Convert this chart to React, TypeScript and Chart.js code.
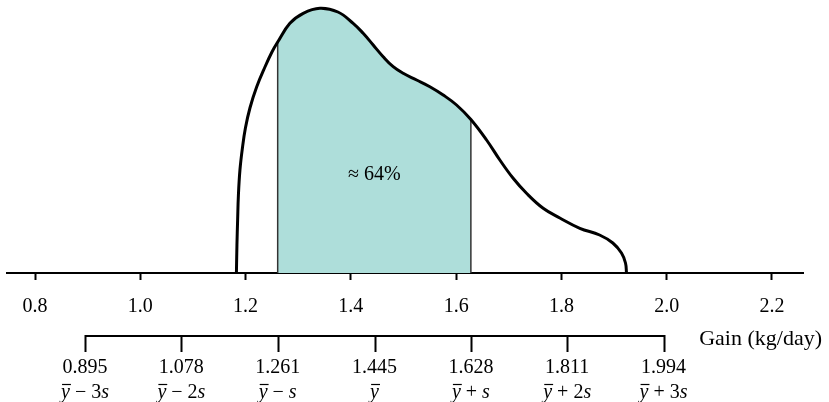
import React, { useEffect, useRef } from "react";
import { Chart, registerables } from "chart.js";

Chart.register(...registerables);

// Density curve of daily gain (heights in arbitrary density units)
const gain = [
  1.1826, 1.1836, 1.1849, 1.1864, 1.1893, 1.194, 1.1997, 1.2083, 1.221, 1.2368, 1.2501,
  1.261, 1.2842, 1.3095, 1.3412, 1.3754, 1.4044, 1.4234, 1.4424, 1.4614, 1.4804, 1.4994,
  1.5249, 1.5501, 1.5754, 1.6008, 1.628, 1.6578, 1.683, 1.7083, 1.7337, 1.7653, 1.797,
  1.835, 1.8725, 1.8976, 1.9141, 1.9217, 1.9236,
];
const density = [
  0, 0.28, 0.53, 0.78, 1.03, 1.25, 1.45, 1.65, 1.86, 2.06, 2.21,
  2.31, 2.497, 2.597, 2.647, 2.61, 2.497, 2.397, 2.28, 2.163, 2.063, 1.997,
  1.93, 1.863, 1.78, 1.68, 1.535, 1.33, 1.13, 0.947, 0.797, 0.647, 0.55,
  0.447, 0.38, 0.3, 0.2, 0.1, 0,
];

const axisTicks = [0.8, 1.0, 1.2, 1.4, 1.6, 1.8, 2.0, 2.2];
const bracketValues = [0.895, 1.078, 1.261, 1.445, 1.628, 1.811, 1.994];
const bracketSymbols = ["ȳ − 3s", "ȳ − 2s", "ȳ − s", "ȳ", "ȳ + s", "ȳ + 2s", "ȳ + 3s"];
const shadeLow = 1.261;
const shadeHigh = 1.628;
const shadeLabel = "≈ 64%";
const axisTitle = "Gain (kg/day)";
const xMin = 0.7468;
const xMax = 2.2589;
const yMax = 2.73;

const FONT = "'Liberation Serif', 'Times New Roman', serif";
const SHADE = "rgb(174,222,218)";

const curvePoints = gain.map((g, i) => ({ x: g, y: density[i] }));
const shadePoints = curvePoints.filter((p) => p.x >= shadeLow && p.x <= shadeHigh);
const heightAt = (v: number) => density[gain.indexOf(v)];

function drawSymbol(ctx: CanvasRenderingContext2D, text: string, cx: number, baseY: number) {
  const upright = `20px ${FONT}`;
  const italic = `italic 20px ${FONT}`;
  const segs: { t: string; it: boolean; bar: boolean }[] = [];
  for (const ch of Array.from(text)) {
    if (ch === "ȳ") segs.push({ t: "y", it: true, bar: true });
    else if (ch === "s") segs.push({ t: "s", it: true, bar: false });
    else segs.push({ t: ch, it: false, bar: false });
  }
  let total = 0;
  const widths = segs.map((s) => {
    ctx.font = s.it ? italic : upright;
    const w = ctx.measureText(s.t).width;
    total += w;
    return w;
  });
  let xPos = cx - total / 2;
  ctx.textAlign = "left";
  segs.forEach((s, i) => {
    ctx.font = s.it ? italic : upright;
    ctx.fillText(s.t, xPos, baseY);
    if (s.bar) {
      ctx.beginPath();
      ctx.lineWidth = 1.2;
      ctx.moveTo(xPos + 1, baseY - 13.5);
      ctx.lineTo(xPos + widths[i] + 1, baseY - 13.5);
      ctx.stroke();
    }
    xPos += widths[i];
  });
}

const annotations = {
  id: "annotations",
  afterDraw(chart: any) {
    const { ctx, chartArea } = chart;
    const x = chart.scales.x;
    const base = chartArea.bottom;
    ctx.save();
    ctx.fillStyle = "#000";
    ctx.strokeStyle = "#000";

    // bracket axis
    const yLine = base + 63;
    ctx.lineWidth = 2;
    ctx.beginPath();
    ctx.moveTo(x.getPixelForValue(bracketValues[0]), yLine);
    ctx.lineTo(x.getPixelForValue(bracketValues[bracketValues.length - 1]), yLine);
    bracketValues.forEach((v) => {
      const px = Math.round(x.getPixelForValue(v)) + 0.5;
      ctx.moveTo(px, yLine - 1);
      ctx.lineTo(px, yLine + 16);
    });
    ctx.stroke();

    ctx.textBaseline = "alphabetic";
    bracketValues.forEach((v, i) => {
      const px = x.getPixelForValue(v);
      ctx.font = `20px ${FONT}`;
      ctx.textAlign = "center";
      ctx.fillText(v.toFixed(3), px, base + 100);
      drawSymbol(ctx, bracketSymbols[i], px, base + 125);
    });

    // axis title
    ctx.font = `22px ${FONT}`;
    ctx.textAlign = "right";
    ctx.fillText(axisTitle, chart.width - 7, base + 72);

    // shaded area label
    ctx.font = `20px ${FONT}`;
    ctx.textAlign = "center";
    ctx.fillText(shadeLabel, x.getPixelForValue((shadeLow + shadeHigh) / 2), base - 93);
    ctx.restore();
  },
};

export default function App() {
  const ref = useRef<HTMLCanvasElement>(null);
  useEffect(() => {
    if (!ref.current) return;
    const chart = new Chart(ref.current, {
      type: "line",
      data: {
        datasets: [
          {
            data: curvePoints,
            borderColor: "#000",
            borderWidth: 3,
            pointRadius: 0,
            fill: false,
            tension: 0.4,
          },
          {
            data: [
              { x: shadeLow, y: 0 },
              { x: shadeLow, y: heightAt(shadeLow) },
            ],
            borderColor: "#333",
            borderWidth: 1.5,
            pointRadius: 0,
            fill: false,
          },
          {
            data: [
              { x: shadeHigh, y: 0 },
              { x: shadeHigh, y: heightAt(shadeHigh) },
            ],
            borderColor: "#333",
            borderWidth: 1.5,
            pointRadius: 0,
            fill: false,
          },
          {
            data: shadePoints,
            borderWidth: 0,
            borderColor: "rgba(0,0,0,0)",
            backgroundColor: SHADE,
            pointRadius: 0,
            fill: "origin",
            tension: 0.4,
          },
        ],
      },
      options: {
        animation: false,
        responsive: false,
        devicePixelRatio: 1,
        layout: { padding: { left: 7, right: 26, top: 0, bottom: 0 } },
        plugins: { legend: { display: false }, tooltip: { enabled: false } },
        scales: {
          x: {
            type: "linear",
            position: "bottom",
            min: xMin,
            max: xMax,
            afterBuildTicks: (s: any) => {
              s.ticks = axisTicks.map((v) => ({ value: v }));
            },
            afterFit: (s: any) => {
              s.height = 129;
            },
            grid: {
              display: true,
              drawOnChartArea: false,
              drawTicks: true,
              tickLength: 7,
              tickWidth: 2,
              tickColor: "#000",
            },
            border: { display: true, color: "#000", width: 2 },
            ticks: {
              color: "#000",
              font: { family: FONT, size: 20 },
              padding: 15,
              maxRotation: 0,
              autoSkip: false,
              callback: (v: any) => Number(v).toFixed(1),
            },
          },
          y: { type: "linear", display: false, min: 0, max: yMax },
        },
      },
      plugins: [annotations],
    } as any);
    return () => chart.destroy();
  }, []);
  return (
    <div style={{ position: "absolute", left: 0, top: 0, width: 829, height: 402, background: "#fff" }}>
      <canvas ref={ref} width={829} height={402} />
    </div>
  );
}
